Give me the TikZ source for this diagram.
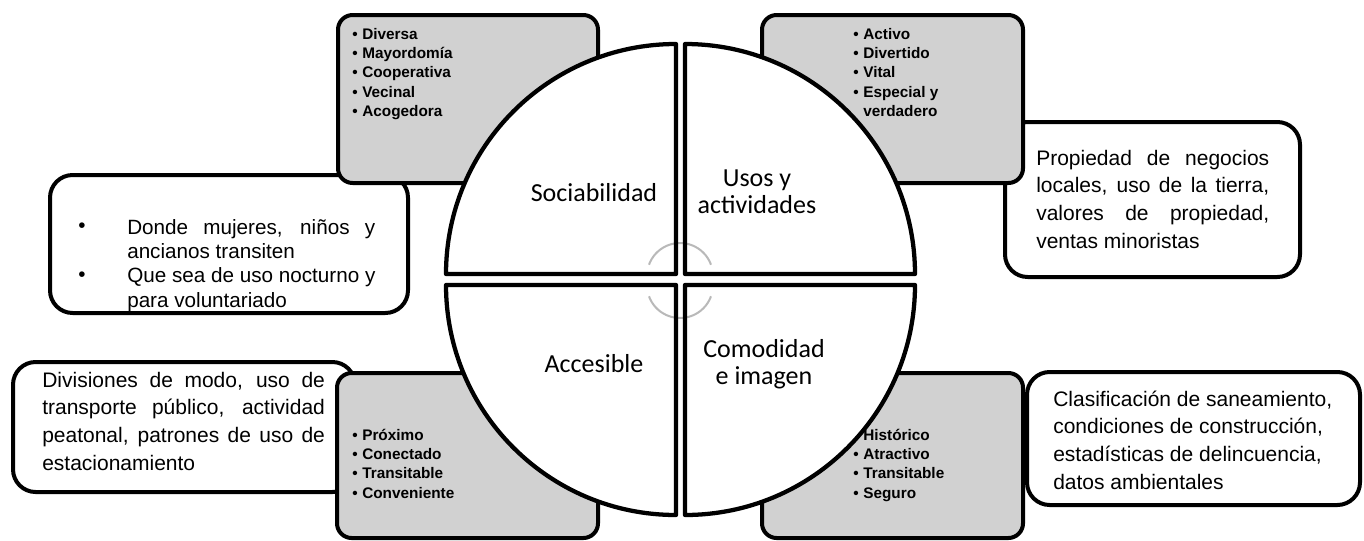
\documentclass[tikz,border=0pt]{standalone}
\usepackage{fontspec}
\setmainfont{Liberation Sans}
\newfontfamily\calfont{Carlito}

\tikzset{
  whitebox/.style={draw=black, fill=white, line width=3pt, rounded corners=17pt},
  graybox/.style={draw=black, fill=gray!36, line width=3pt, rounded corners=11pt},
  quad/.style={draw=black, line width=3.2pt},
  quadlabel/.style={font=\calfont\fontsize{19.5}{20.5}\selectfont, inner sep=0pt, anchor=base},
  graylist/.style={font=\bfseries\fontsize{11.5}{14.6}\selectfont, inner sep=0pt, anchor=base west},
  boxtext/.style={font=\fontsize{15.75}{20.8}\selectfont, inner sep=0pt, anchor=base west},
  turnarc/.style={draw=gray!55, line width=1.5pt}
}

\begin{document}
\begin{tikzpicture}[x=0.75pt, y=-0.75pt, line join=round]
    \useasboundingbox (0,0) rectangle (1364,540);

    % outer text boxes
    \draw[whitebox] (50,175) rectangle (408,313);
    \begin{scope}
        \clip (50,177) rectangle (408,311);
        \node[font=\fontsize{15.5}{15.5}\selectfont, inner sep=0pt] (dot1) at (82,228) {•};
        \node[font=\fontsize{15.5}{15.5}\selectfont, inner sep=0pt] (dot2) at (82,277) {•};
        \node[boxtext, font=\fontsize{15.5}{18.3}\selectfont] (donde) at (127,234)
            {\begin{tabular}[t]{@{}l@{}}\makebox[186pt][s]{Donde mujeres, niños y}\\ ancianos transiten\\ Que sea de uso nocturno y\\ para voluntariado\end{tabular}};
    \end{scope}

    \draw[whitebox] (1005,122) rectangle (1300,277);
    \node[boxtext] (negocios) at (1036,165)
        {\begin{tabular}[t]{@{}l@{}}\makebox[174.75pt][s]{Propiedad de negocios}\\ \makebox[174.75pt][s]{locales, uso de la tierra,}\\ \makebox[174.75pt][s]{valores de propiedad,}\\ ventas minoristas\end{tabular}};

    \draw[whitebox] (13,362) rectangle (355,492);
    \node[boxtext] (divisiones) at (42,387)
        {\begin{tabular}[t]{@{}l@{}}\makebox[212pt][s]{Divisiones de modo, uso de}\\ \makebox[212pt][s]{transporte público, actividad}\\ \makebox[212pt][s]{peatonal, patrones de uso de}\\ estacionamiento\end{tabular}};

    \draw[whitebox] (1027,372) rectangle (1360,505);
    \node[boxtext] (saneamiento) at (1053,406)
        {\begin{tabular}[t]{@{}l@{}}Clasificación de saneamiento,\\ condiciones de construcción,\\ estadísticas de delincuencia,\\ datos ambientales\end{tabular}};

    % gray boxes behind the circle
    \draw[graybox] (338,15) rectangle (598,183);
    \node[graylist] (social) at (352,39)
        {\begin{tabular}[t]{@{}l@{\hspace{3.5pt}}l@{}}•&Diversa\\ •&Mayordomía\\ •&Cooperativa\\ •&Vecinal\\ •&Acogedora\end{tabular}};
    \draw[graybox] (762,15) rectangle (1023,183);
    \node[graylist] (usos) at (853,39)
        {\begin{tabular}[t]{@{}l@{\hspace{3.5pt}}l@{}}•&Activo\\ •&Divertido\\ •&Vital\\ •&Especial y\\ &verdadero\end{tabular}};
    \draw[graybox] (337,373) rectangle (598,538);
    \node[graylist] (acceso) at (352,440)
        {\begin{tabular}[t]{@{}l@{\hspace{3.5pt}}l@{}}•&Próximo\\ •&Conectado\\ •&Transitable\\ •&Conveniente\end{tabular}};
    \draw[graybox] (762,373) rectangle (1023,538);
    \node[graylist] (imagen) at (853,440)
        {\begin{tabular}[t]{@{}l@{\hspace{3.5pt}}l@{}}•&Histórico\\ •&Atractivo\\ •&Transitable\\ •&Seguro\end{tabular}};

    % quadrants (fill first, then turning arcs, then borders)
    \foreach \cx/\cy/\sa/\ea in {676/274/180/90, 685/274/90/0, 676/285/180/270, 685/285/0/-90} {
        \fill[white] (\cx,\cy) -- ([shift={(\sa:172.5pt)}]\cx,\cy) arc[start angle=\sa, end angle=\ea, radius=172.5pt] -- cycle;
    }
    \draw[turnarc] ([shift={(160:24.75pt)}]680,276) arc[start angle=160, end angle=20, radius=24.75pt];
    \draw[turnarc] ([shift={(200:24.75pt)}]680,285) arc[start angle=200, end angle=340, radius=24.75pt];
    \foreach \cx/\cy/\sa/\ea in {676/274/180/90, 685/274/90/0, 676/285/180/270, 685/285/0/-90} {
        \draw[quad] (\cx,\cy) -- ([shift={(\sa:172.5pt)}]\cx,\cy) arc[start angle=\sa, end angle=\ea, radius=172.5pt] -- cycle;
    }

    % quadrant labels
    \node[quadlabel] (sociabilidad) at (594,201) {Sociabilidad};
    \node[quadlabel] (actividades) at (757,186) {\begin{tabular}[t]{@{}c@{}}Usos y\\ actividades\end{tabular}};
    \node[quadlabel] (accesible) at (594,372) {Accesible};
    \node[quadlabel] (comodidad) at (764,357) {\begin{tabular}[t]{@{}c@{}}Comodidad\\ e imagen\end{tabular}};
\end{tikzpicture}
\end{document}
